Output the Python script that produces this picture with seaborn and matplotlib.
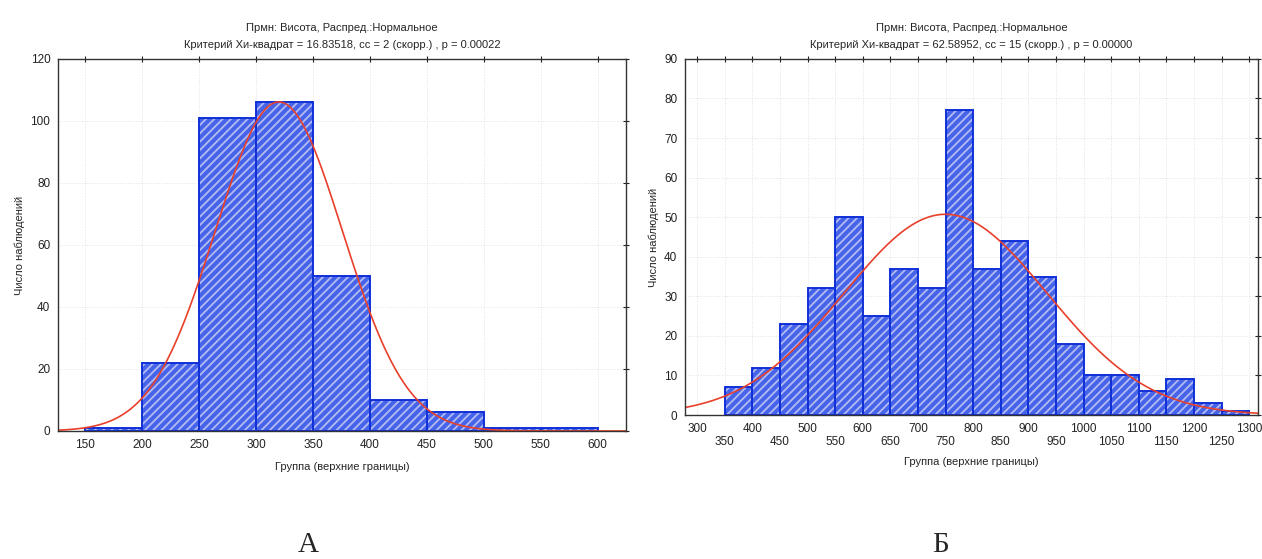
import numpy as np
import seaborn as sns
import matplotlib.pyplot as plt

# panel A: height distribution, bin width 50
edges_a = [150, 200, 250, 300, 350, 400, 450, 500, 550, 600]
counts_a = [1, 22, 101, 106, 50, 10, 6, 1, 1]
mean_a, sd_a = 320, 56

# panel B
edges_b = list(range(350, 1301, 50))
counts_b = [7, 12, 23, 32, 50, 25, 37, 32, 77, 37, 44, 35, 18, 10, 10, 6, 9, 3, 1]
mean_b, sd_b = 750, 184

title1 = 'Прмн: Висота, Распред.:Нормальное'
title_a = 'Критерий Хи-квадрат = 16.83518, сс = 2 (скорр.) , р = 0.00022'
title_b = 'Критерий Хи-квадрат = 62.58952, сс = 15 (скорр.) , р = 0.00000'

sns.set_style('white')
plt.rcParams['font.family'] = ['Liberation Sans', 'DejaVu Sans']
plt.rcParams['hatch.linewidth'] = 1.3

fill_col = '#4664ea'
hatch_col = '#b3bbf2'
edge_col = '#1030d8'
curve_col = '#e8402a'

fig = plt.figure(figsize=(12.62, 5.59), dpi=100)
ax_a = fig.add_axes([0.0460, 0.2290, 0.4500, 0.6655])
ax_b = fig.add_axes([0.5428, 0.2576, 0.4540, 0.6370])


def draw(ax, edges, counts, mu, sd, xlim, subtitle):
    mids = [(lo + hi) / 2 for lo, hi in zip(edges[:-1], edges[1:])]
    sns.histplot(x=mids, weights=counts, bins=edges, ax=ax, color=fill_col,
                 alpha=1, edgecolor=hatch_col, linewidth=0, hatch='////')
    sns.histplot(x=mids, weights=counts, bins=edges, ax=ax, fill=False,
                 color=edge_col, edgecolor=edge_col, linewidth=1.4)
    n = sum(counts)
    w = edges[1] - edges[0]
    xs = np.linspace(xlim[0], xlim[1], 400)
    ys = n * w * np.exp(-0.5 * ((xs - mu) / sd) ** 2) / (sd * np.sqrt(2 * np.pi))
    sns.lineplot(x=xs, y=ys, ax=ax, color=curve_col, linewidth=1.2)
    ax.set_xlim(*xlim)
    ax.grid(True, color='#e2e2e2', linestyle=':', linewidth=0.7)
    ax.set_axisbelow(True)
    for s in ax.spines.values():
        s.set_color('#333333')
        s.set_linewidth(1.0)
    ax.tick_params(direction='inout', length=5, width=0.8, top=True, right=True,
                   labelsize=8.5, colors='#222222', pad=3)
    ax.set_ylabel('Число наблюдений', fontsize=8)
    ax.set_title(title1 + '\n' + subtitle, fontsize=8, linespacing=1.9, pad=8)


draw(ax_a, edges_a, counts_a, mean_a, sd_a, (126, 625), title_a)
ax_a.set_ylim(0, 120)
ax_a.set_yticks(range(0, 121, 20))
ax_a.set_xticks(range(150, 601, 50))
ax_a.set_xlabel('Группа (верхние границы)', fontsize=8, labelpad=8)

draw(ax_b, edges_b, counts_b, mean_b, sd_b, (278, 1316), title_b)
ax_b.set_ylim(0, 90)
ax_b.set_yticks(range(0, 91, 10))
ticks_b = list(range(300, 1301, 50))
ax_b.set_xticks(ticks_b)
ax_b.set_xticklabels([str(t) if t % 100 == 0 else '\n' + str(t) for t in ticks_b])
ax_b.set_xlabel('Группа (верхние границы)', fontsize=8, labelpad=6)

fig.text(0.244, 0.012, 'А', fontsize=21, family='Liberation Serif', ha='center')
fig.text(0.745, 0.012, 'Б', fontsize=21, family='Liberation Serif', ha='center')

fig.savefig('out.png', dpi=100, facecolor='white')
